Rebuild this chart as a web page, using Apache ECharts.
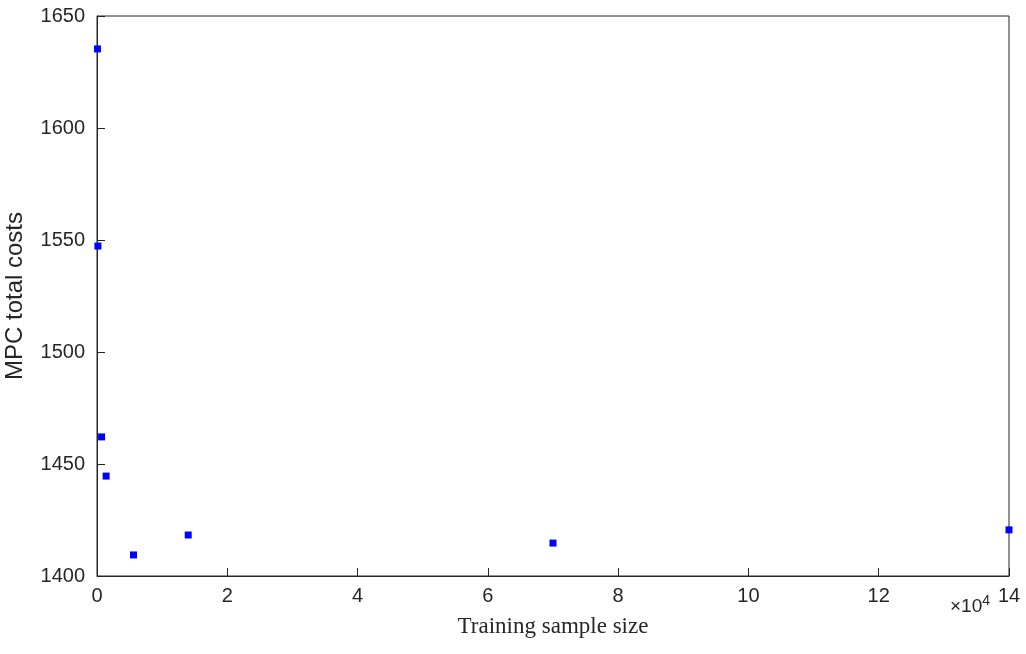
<!DOCTYPE html>
<html>
<head>
<meta charset="utf-8">
<script src="https://cdn.jsdelivr.net/npm/echarts@6/dist/echarts.min.js"></script>
<style>html,body{margin:0;padding:0;background:#fff}#main{width:1026px;height:654px}</style>
</head>
<body>
<div id="main"></div>
<script>
var sampleSizes = [70, 140, 700, 1400, 5600, 14000, 70000, 140000];
var totalCosts = [1635.3, 1547.3, 1462.1, 1444.6, 1409.4, 1418.3, 1414.7, 1420.6];
var xTicks = [0, 2, 4, 6, 8, 10, 12, 14];

var myChart = echarts.init(document.getElementById('main'));
var axisText = { color: '#262626', fontSize: 20, fontFamily: 'Liberation Sans' };
var option = {
  animation: false,
  grid: { left: 97, right: 17, top: 16, bottom: 78, show: true, borderColor: '#262626', borderWidth: 1, containLabel: false, outerBoundsMode: 'none' },
  xAxis: {
    type: 'value', min: 0, max: 140000, interval: 20000,
    name: 'Training sample size', nameLocation: 'middle', nameGap: 39,
    nameTextStyle: { color: '#262626', fontSize: 23, fontFamily: 'Liberation Serif' },
    axisLine: { lineStyle: { color: '#262626' } },
    axisTick: { inside: true, length: 8, lineStyle: { color: '#262626' } },
    splitLine: { show: false },
    axisLabel: Object.assign({ margin: 10, formatter: function (v) { return String(v / 1e4); } }, axisText)
  },
  yAxis: {
    type: 'value', min: 1400, max: 1650, interval: 50,
    name: 'MPC total costs', nameLocation: 'middle', nameGap: 70,
    nameTextStyle: { color: '#262626', fontSize: 24, fontFamily: 'Liberation Sans' },
    axisLine: { show: true, lineStyle: { color: '#262626' } },
    axisTick: { show: true, inside: true, length: 8, lineStyle: { color: '#262626' } },
    splitLine: { show: false },
    axisLabel: Object.assign({ margin: 12, formatter: function (v) { return String(v); } }, axisText)
  },
  graphic: [{
    type: 'text', left: 950, top: 594,
    style: { rich: { a: { fontSize: 19, fill: '#262626', fontFamily: 'Liberation Sans' }, b: { fontSize: 14, fill: '#262626', verticalAlign: 'top', padding: [0, 0, 12, 0], fontFamily: 'Liberation Sans' } },
      text: '{a|×10}{b|4}' }
  }],
  series: [{
    type: 'scatter', symbol: 'rect', symbolSize: 7,
    itemStyle: { color: '#0000ff', opacity: 1 },
    data: sampleSizes.map(function (x, i) { return [x, totalCosts[i]]; })
  }]
};
myChart.setOption(option);
</script>
</body>
</html>
